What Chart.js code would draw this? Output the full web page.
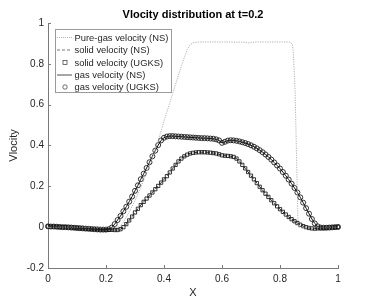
<!DOCTYPE html>
<html>
<head>
<meta charset="utf-8">
<script src="https://cdn.jsdelivr.net/npm/chart.js@4.4.1/dist/chart.umd.min.js"></script>
<style>
  html, body { margin: 0; padding: 0; background: #fff; }
  #wrap { width: 374px; height: 301px; position: relative; }
</style>
</head>
<body>
<div id="wrap"><canvas id="myChart"></canvas></div>
<script>
// x grid of the two-phase results
const xGrid = [
  0.00, 0.01, 0.02, 0.03, 0.04, 0.05, 0.06, 0.07, 0.08, 0.09,
  0.10, 0.11, 0.12, 0.13, 0.14, 0.15, 0.16, 0.17, 0.18, 0.19,
  0.20, 0.21, 0.22, 0.23, 0.24, 0.25, 0.26, 0.27, 0.28, 0.29,
  0.30, 0.31, 0.32, 0.33, 0.34, 0.35, 0.36, 0.37, 0.38, 0.39,
  0.40, 0.41, 0.42, 0.43, 0.44, 0.45, 0.46, 0.47, 0.48, 0.49,
  0.50, 0.51, 0.52, 0.53, 0.54, 0.55, 0.56, 0.57, 0.58, 0.59,
  0.60, 0.61, 0.62, 0.63, 0.64, 0.65, 0.66, 0.67, 0.68, 0.69,
  0.70, 0.71, 0.72, 0.73, 0.74, 0.75, 0.76, 0.77, 0.78, 0.79,
  0.80, 0.81, 0.82, 0.83, 0.84, 0.85, 0.86, 0.87, 0.88, 0.89,
  0.90, 0.91, 0.92, 0.93, 0.94, 0.95, 0.96, 0.97, 0.98, 0.99,
  1.00
];

const gasVel = [
  0.004, 0.003, 0.003, 0.002, 0.001, 0.000, 0.000, -0.001, -0.002, -0.003,
  -0.004, -0.005, -0.006, -0.007, -0.008, -0.009, -0.010, -0.011, -0.012, -0.012,
  -0.012, -0.010, -0.002, 0.015, 0.035, 0.055, 0.078, 0.100, 0.125, 0.150,
  0.178, 0.205, 0.235, 0.262, 0.290, 0.318, 0.347, 0.375, 0.402, 0.425,
  0.438, 0.444, 0.446, 0.446, 0.445, 0.444, 0.443, 0.442, 0.441, 0.440,
  0.439, 0.438, 0.437, 0.436, 0.436, 0.435, 0.434, 0.433, 0.430, 0.425,
  0.413, 0.418, 0.424, 0.426, 0.425, 0.423, 0.420, 0.416, 0.412, 0.407,
  0.401, 0.394, 0.386, 0.377, 0.367, 0.356, 0.344, 0.331, 0.317, 0.302,
  0.287, 0.270, 0.252, 0.233, 0.213, 0.192, 0.170, 0.146, 0.120, 0.093,
  0.066, 0.040, 0.018, 0.004, -0.002, -0.003, -0.003, -0.002, -0.001, 0.000,
  0.001
];

const solidVel = [
  0.004, 0.003, 0.003, 0.002, 0.001, 0.000, 0.000, -0.001, -0.002, -0.003,
  -0.004, -0.005, -0.006, -0.007, -0.008, -0.009, -0.010, -0.011, -0.012, -0.012,
  -0.013, -0.013, -0.013, -0.014, -0.014, -0.010, 0.000, 0.015, 0.033, 0.052,
  0.072, 0.090, 0.108, 0.124, 0.140, 0.155, 0.170, 0.186, 0.202, 0.218,
  0.234, 0.250, 0.268, 0.287, 0.305, 0.322, 0.336, 0.347, 0.355, 0.361,
  0.364, 0.366, 0.367, 0.367, 0.367, 0.366, 0.365, 0.363, 0.361, 0.357,
  0.352, 0.350, 0.349, 0.347, 0.344, 0.336, 0.322, 0.305, 0.288, 0.270,
  0.252, 0.234, 0.216, 0.198, 0.181, 0.164, 0.148, 0.132, 0.117, 0.102,
  0.088, 0.075, 0.062, 0.050, 0.039, 0.029, 0.020, 0.012, 0.005, 0.000,
  -0.004, -0.006, -0.007, -0.006, -0.005, -0.004, -0.003, -0.002, -0.001, 0.000,
  0.001
];

// pure gas (NS) reference solution
const pureX = [0, 0.1, 0.2, 0.24, 0.25, 0.26, 0.27, 0.28, 0.30, 0.32, 0.34, 0.36, 0.38,
  0.40, 0.42, 0.44, 0.46, 0.48, 0.49, 0.50, 0.52, 0.60, 0.68, 0.69, 0.70, 0.72, 0.834,
  0.843, 0.846, 0.852, 0.857, 0.862, 0.865, 0.90, 1.0];
const pureVel = [0, 0, 0, 0, 0.005, 0.025, 0.05, 0.075, 0.13, 0.195, 0.265, 0.34, 0.425,
  0.52, 0.61, 0.70, 0.79, 0.87, 0.893, 0.903, 0.907, 0.907, 0.906, 0.902, 0.905, 0.907, 0.907,
  0.895, 0.85, 0.67, 0.35, 0.02, 0, 0, 0];

const xTicks = [0, 0.2, 0.4, 0.6, 0.8, 1];
const yTicks = [-0.2, 0, 0.2, 0.4, 0.6, 0.8, 1];

const titleText = 'Vlocity distribution at t=0.2';
const xLabel = 'X';
const yLabel = 'Vlocity';
const legendLabels = ['Pure-gas velocity (NS)', 'solid velocity (NS)', 'solid velocity (UGKS)',
  'gas velocity (NS)', 'gas velocity (UGKS)'];

function pts(xs, ys) {
  return xs.map((x, i) => ({ x: x, y: ys[i] }));
}

const fontFam = '"Liberation Sans", Arial, Helvetica, sans-serif';
const txtColor = '#262626';
const axisColor = '#7a7a7a';

// MATLAB style inward tick marks, title and boxed legend
const decorPlugin = {
  id: 'decor',
  afterDraw(chart) {
    const c = chart.ctx;
    const area = chart.chartArea;
    const xs = chart.scales.x, ys = chart.scales.y;
    c.save();
    c.strokeStyle = axisColor;
    c.lineWidth = 1;
    c.beginPath();
    xTicks.forEach(v => {
      const px = Math.round(xs.getPixelForValue(v)) + 0.5;
      c.moveTo(px, area.bottom); c.lineTo(px, area.bottom - 3);
    });
    yTicks.forEach(v => {
      const py = Math.round(ys.getPixelForValue(v)) + 0.5;
      c.moveTo(area.left, py); c.lineTo(area.left + 3, py);
    });
    c.stroke();

    // title
    c.fillStyle = '#000';
    c.font = 'bold 11px ' + fontFam;
    c.textAlign = 'center';
    c.textBaseline = 'middle';
    c.fillText(titleText, (area.left + area.right) / 2, 15);

    // legend box
    const bx = 55.5, by = 29.5, bw = 116, bh = 63;
    c.fillStyle = '#fff';
    c.fillRect(bx, by, bw, bh);
    c.strokeStyle = '#9a9a9a';
    c.lineWidth = 1;
    c.strokeRect(bx, by, bw, bh);
    c.font = '9.4px ' + fontFam;
    c.textAlign = 'left';
    c.fillStyle = txtColor;
    const rowY = [37.5, 50, 62.5, 75, 87];
    rowY.forEach((yy, i) => {
      c.save();
      c.lineWidth = 0.8;
      if (i === 0) {
        c.strokeStyle = '#a0a0a0'; c.setLineDash([1, 1]);
        c.beginPath(); c.moveTo(57, yy); c.lineTo(72, yy); c.stroke();
      } else if (i === 1) {
        c.strokeStyle = '#555'; c.setLineDash([3, 2]);
        c.beginPath(); c.moveTo(57, yy); c.lineTo(72, yy); c.stroke();
      } else if (i === 2) {
        c.strokeStyle = '#333'; c.lineWidth = 0.7;
        c.strokeRect(63, yy - 2, 4, 4);
      } else if (i === 3) {
        c.strokeStyle = '#222';
        c.beginPath(); c.moveTo(57, yy); c.lineTo(72, yy); c.stroke();
      } else {
        c.strokeStyle = '#333'; c.lineWidth = 0.7;
        c.beginPath(); c.arc(65, yy, 2.2, 0, Math.PI * 2); c.stroke();
      }
      c.restore();
      c.fillText(legendLabels[i], 74.5, yy + 0.5);
    });
    c.restore();
  }
};

const ctx = document.getElementById('myChart');

new Chart(ctx, {
  type: 'scatter',
  data: {
    datasets: [
      {
        label: legendLabels[0],
        data: pts(pureX, pureVel),
        showLine: true,
        borderColor: '#a8a8a8',
        borderWidth: 0.9,
        borderDash: [1.2, 1.2],
        pointRadius: 0,
        tension: 0
      },
      {
        label: legendLabels[1],
        data: pts(xGrid, solidVel),
        showLine: true,
        borderColor: '#222',
        borderWidth: 1,
        borderDash: [4, 2],
        pointRadius: 0,
        tension: 0
      },
      {
        label: legendLabels[3],
        data: pts(xGrid, gasVel),
        showLine: true,
        borderColor: '#111',
        borderWidth: 1,
        pointRadius: 0,
        tension: 0
      },
      {
        label: legendLabels[2],
        data: pts(xGrid, solidVel),
        showLine: false,
        pointStyle: 'rect',
        pointRadius: 2.3,
        pointBorderWidth: 1,
        pointBorderColor: 'rgba(20,20,20,0.85)',
        pointBackgroundColor: 'rgba(0,0,0,0)',
        clip: 6
      },
      {
        label: legendLabels[4],
        data: pts(xGrid, gasVel),
        showLine: false,
        pointStyle: 'circle',
        pointRadius: 2.5,
        pointBorderWidth: 1,
        pointBorderColor: 'rgba(20,20,20,0.85)',
        pointBackgroundColor: 'rgba(0,0,0,0)',
        clip: 6
      }
    ]
  },
  options: {
    responsive: true,
    maintainAspectRatio: false,
    animation: false,
    devicePixelRatio: 1,
    layout: { padding: { left: 0, right: 36, top: 23, bottom: 0 } },
    plugins: {
      legend: { display: false },
      title: { display: false },
      tooltip: { enabled: false }
    },
    scales: {
      x: {
        type: 'linear',
        min: 0,
        max: 1,
        afterBuildTicks: s => { s.ticks = xTicks.map(v => ({ value: v })); },
        afterFit: s => { s.height = 33; },
        grid: { display: false, drawTicks: false },
        border: { display: true, color: axisColor, width: 1 },
        ticks: {
          padding: 5,
          color: txtColor,
          font: { family: fontFam, size: 10 },
          maxRotation: 0,
          callback: v => String(Number(v.toFixed(1)))
        },
        title: {
          display: true,
          text: xLabel,
          color: txtColor,
          font: { family: fontFam, size: 11 },
          padding: { top: 0, bottom: 1 }
        }
      },
      y: {
        type: 'linear',
        min: -0.2,
        max: 1,
        afterBuildTicks: s => { s.ticks = yTicks.map(v => ({ value: v })); },
        afterFit: s => { s.width = 48; },
        grid: { display: false, drawTicks: false },
        border: { display: true, color: axisColor, width: 1 },
        ticks: {
          padding: 4,
          color: txtColor,
          font: { family: fontFam, size: 10 },
          callback: v => String(Number(v.toFixed(1)))
        },
        title: {
          display: true,
          text: yLabel,
          color: txtColor,
          font: { family: fontFam, size: 11 },
          padding: { top: 7, bottom: 0 }
        }
      }
    }
  },
  plugins: [decorPlugin]
});
</script>
</body>
</html>
